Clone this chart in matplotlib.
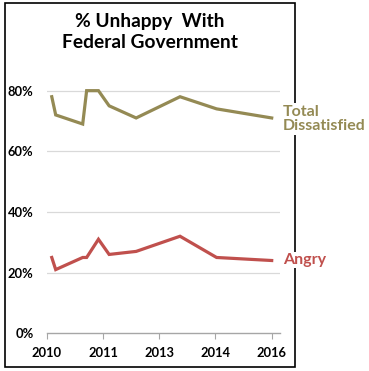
import matplotlib
matplotlib.use("Agg")
import matplotlib.pyplot as plt
from matplotlib.patches import Rectangle

# Data (x as position along the axis, tick index units)
x_pos = [0.09, 0.16, 0.64, 0.71, 0.92, 1.11, 1.59, 2.37, 3.02, 4.0]
total_dissatisfied = [78, 72, 69, 80, 80, 75, 71, 78, 74, 71]
angry = [25, 21, 25, 25, 31, 26, 27, 32, 25, 24]
x_tick_pos = [0, 1, 2, 3, 4]
x_tick_labels = ["2010", "2011", "2013", "2014", "2016"]
y_ticks = [0, 20, 40, 60, 80]

W, H = 369, 371
fig = plt.figure(figsize=(W / 100, H / 100), dpi=100)
fig.patch.set_facecolor("white")

olive = "#948A54"
red = "#C0504D"
font = "Lato"

ax_left, ax_right = 46.7, 280
ax_bottom, ax_top = 333.3, 75.5
ax = fig.add_axes([ax_left / W, 1 - ax_bottom / H, (ax_right - ax_left) / W, (ax_bottom - ax_top) / H])
ax.set_xlim(0, (ax_right - ax_left) / 56.25)
ax.set_ylim(0, 85)

ax.plot(x_pos, total_dissatisfied, color=olive, lw=2.3, solid_joinstyle="miter", zorder=3)
ax.plot(x_pos, angry, color=red, lw=2.3, solid_joinstyle="miter", zorder=3)

ax.set_yticks(y_ticks)
ax.set_yticklabels([f"{v}%" for v in y_ticks], fontfamily=font, fontweight="bold", fontsize=9.3)
ax.set_xticks(x_tick_pos)
ax.set_xticklabels(x_tick_labels, fontfamily=font, fontweight="bold", fontsize=9.3)
ax.tick_params(axis="y", length=0, pad=9.5)
ax.tick_params(axis="x", length=4, color="#A6A6A6", pad=6, direction="out")
for v in y_ticks[1:]:
    ax.axhline(v, color="#D9D9D9", lw=0.9, zorder=1)
for s in ["top", "right", "left"]:
    ax.spines[s].set_visible(False)
ax.spines["bottom"].set_color("#A6A6A6")
ax.spines["bottom"].set_linewidth(1.0)

# Border
fig.add_artist(Rectangle((5 / W, 1 - 367 / H), 290 / W, 364 / H, transform=fig.transFigure,
                         fill=False, edgecolor="black", lw=1.2, zorder=1))

# Title
fig.text(150 / W, 1 - 32 / H, "% Unhappy  With\nFederal Government", ha="center", va="center",
         fontfamily=font, fontweight="bold", fontsize=13.8, linespacing=1.25, zorder=5)

# Series labels
fig.text(283 / W, 1 - 119 / H, "Total\nDissatisfied", ha="left", va="center", color=olive,
         fontfamily=font, fontweight="bold", fontsize=11.5, linespacing=1.05, zorder=5,
         bbox=dict(facecolor="white", edgecolor="none", pad=1))
fig.text(283 / W, 1 - 260 / H, "Angry", ha="left", va="center", color=red,
         fontfamily=font, fontweight="bold", fontsize=11.5, zorder=5,
         bbox=dict(facecolor="white", edgecolor="none", pad=1))

fig.savefig("out.png", dpi=100, facecolor="white")
